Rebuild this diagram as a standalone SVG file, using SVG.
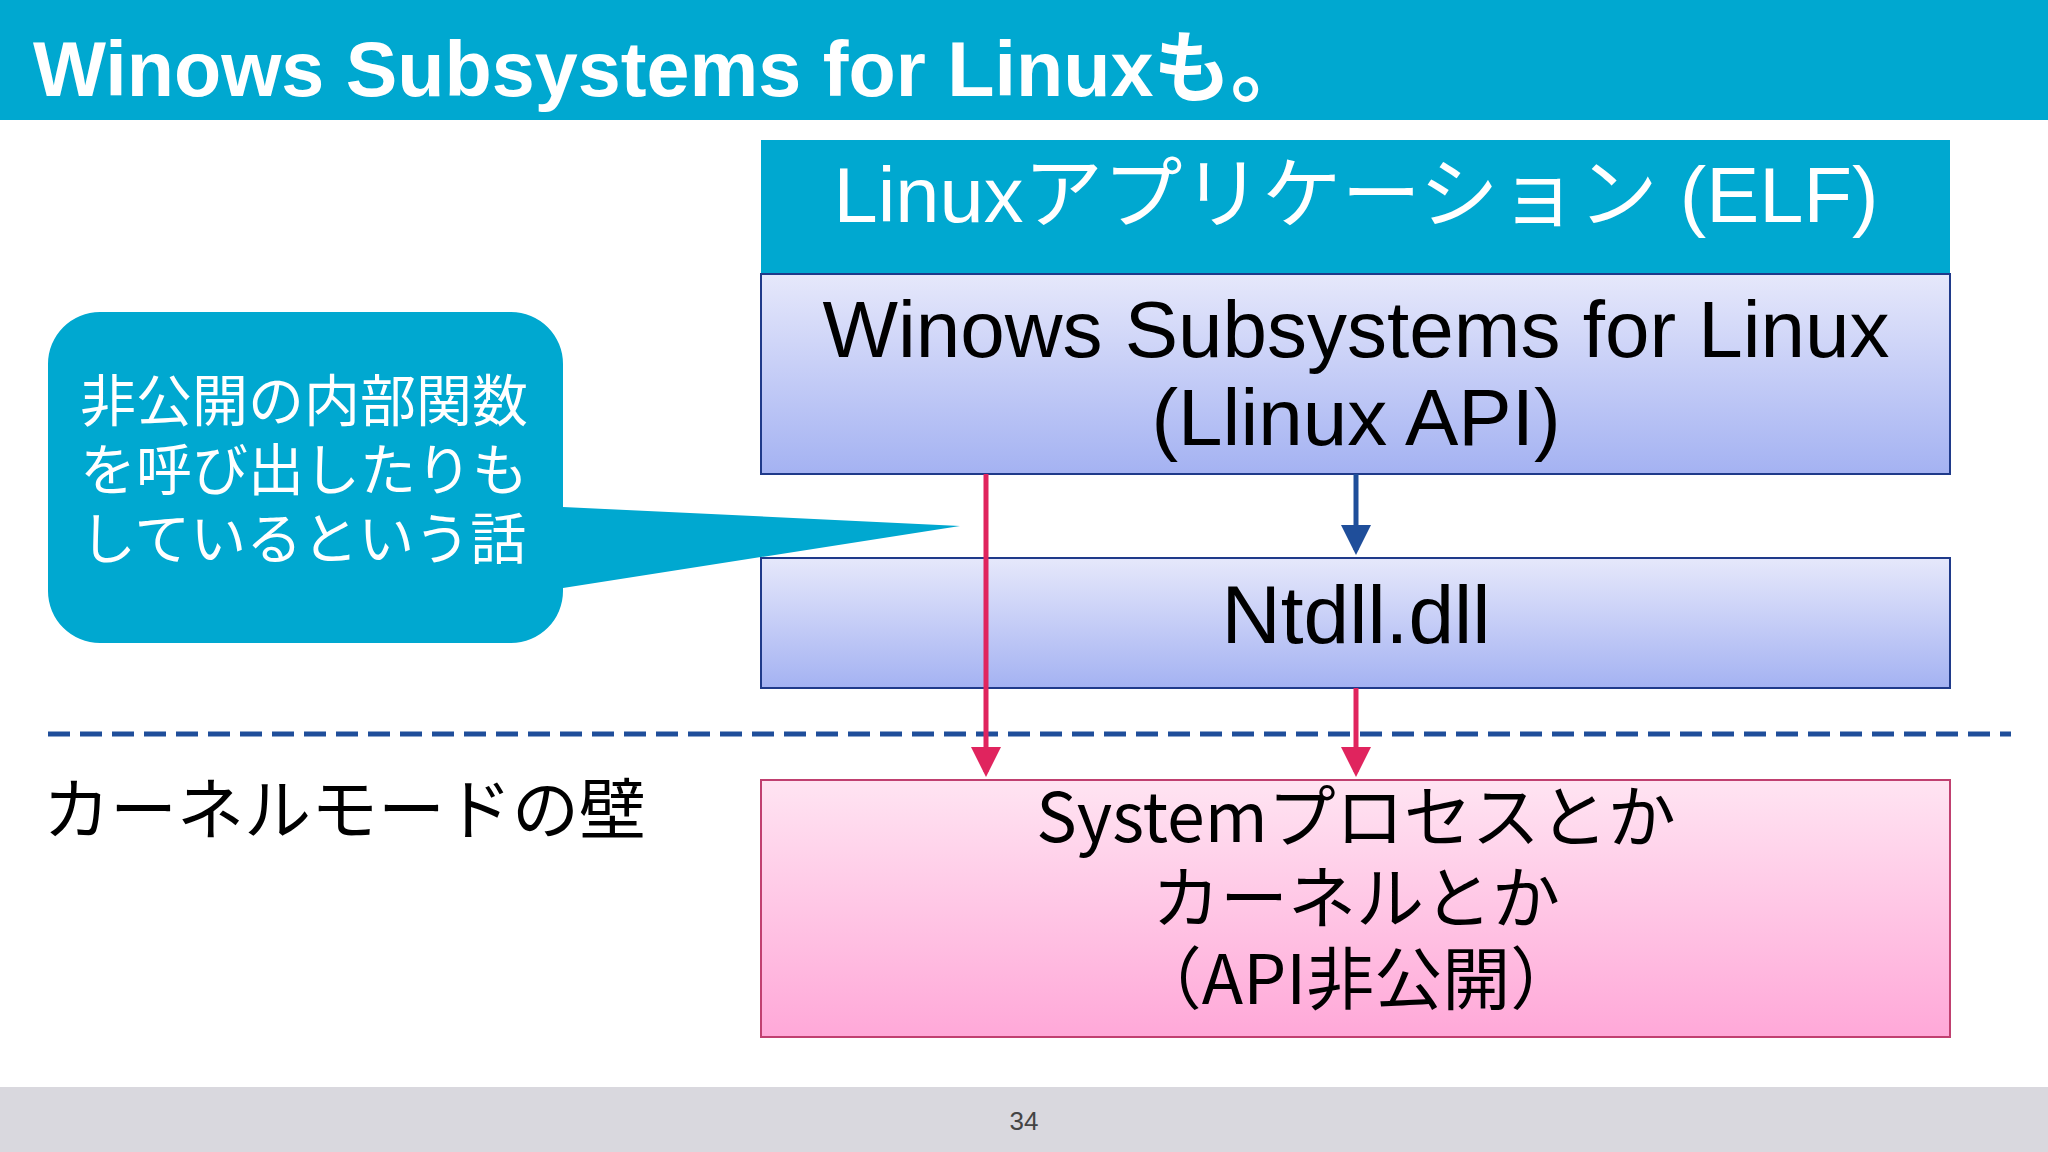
<svg xmlns="http://www.w3.org/2000/svg" width="2048" height="1152" viewBox="0 0 2048 1152">
<defs>
<linearGradient id="gb" x1="0" y1="0" x2="0" y2="1"><stop offset="0" stop-color="#e6e8fb"/><stop offset="1" stop-color="#a4b2f2"/></linearGradient>
<linearGradient id="gp" x1="0" y1="0" x2="0" y2="1"><stop offset="0" stop-color="#ffe4f2"/><stop offset="1" stop-color="#ffa8d8"/></linearGradient>
<marker id="ap" markerWidth="6" markerHeight="6" refX="5" refY="3" orient="auto" markerUnits="strokeWidth"><path d="M0,0 L6,3 L0,6 z" fill="#e0245e"/></marker>
<marker id="ab" markerWidth="6" markerHeight="6" refX="5" refY="3" orient="auto" markerUnits="strokeWidth"><path d="M0,0 L6,3 L0,6 z" fill="#1f4e9a"/></marker>
<style>
.t{font-family:"Liberation Sans","Noto Sans CJK JP",sans-serif}
.j{font-family:"Noto Sans CJK JP","Liberation Sans",sans-serif}
</style>
</defs>
<rect width="2048" height="1152" fill="#fff"/>
<rect width="2048" height="120" fill="#00a8d0"/>
<text x="33" y="96" class="t" font-weight="bold" font-size="78" fill="#fff" textLength="1275" lengthAdjust="spacingAndGlyphs">Winows Subsystems for Linuxも。</text>
<g id="elf"><rect x="761" y="140" width="1189" height="134" fill="#00a8d0"/>
<text x="1356" y="222" class="t" font-size="78" fill="#fff" text-anchor="middle" textLength="1045" lengthAdjust="spacingAndGlyphs">Linuxアプリケーション (ELF)</text></g>
<g id="wsl"><rect x="761" y="274" width="1189" height="200" fill="url(#gb)" stroke="#1f3a8a" stroke-width="2"/>
<text x="1356" y="357" class="t" font-size="80" text-anchor="middle">Winows Subsystems for Linux</text>
<text x="1356" y="445" class="t" font-size="80" text-anchor="middle">(Llinux API)</text></g>
<g id="ntdll"><rect x="761" y="558" width="1189" height="130" fill="url(#gb)" stroke="#1f3a8a" stroke-width="2"/>
<text x="1356" y="643" class="t" font-size="82" text-anchor="middle">Ntdll.dll</text></g>
<g id="kernel"><rect x="761" y="780" width="1189" height="257" fill="url(#gp)" stroke="#c04070" stroke-width="2"/>
<text x="1356" y="842" class="j" font-size="68" text-anchor="middle">Systemプロセスとか</text>
<text x="1356" y="923" class="j" font-size="68" text-anchor="middle">カーネルとか</text>
<text x="1356" y="1004" class="j" font-size="68" text-anchor="middle">（API非公開）</text></g>
<line x1="48" y1="734" x2="2011" y2="734" stroke="#1f4e9a" stroke-width="5" stroke-dasharray="22 10"/>
<text x="43" y="834" class="j" font-size="67">カーネルモードの壁</text>
<g id="callout"><path d="M100,312 H511 A52,52 0 0 1 563,364 V507 L960,526 L563,588 V591 A52,52 0 0 1 511,643 H100 A52,52 0 0 1 48,591 V364 A52,52 0 0 1 100,312 Z" fill="#00a8d0"/>
<text x="80" y="421" class="j" font-size="56" fill="#fff">非公開の内部関数</text>
<text x="80" y="490" class="j" font-size="56" fill="#fff">を呼び出したりも</text>
<text x="80" y="559" class="j" font-size="56" fill="#fff">しているという話</text></g>
<g id="connectors">
<line x1="986" y1="474" x2="986" y2="772" stroke="#e0245e" stroke-width="5" marker-end="url(#ap)"/>
<line x1="1356" y1="688" x2="1356" y2="772" stroke="#e0245e" stroke-width="5" marker-end="url(#ap)"/>
<line x1="1356" y1="474" x2="1356" y2="550" stroke="#1f4e9a" stroke-width="5" marker-end="url(#ab)"/>
</g>
<rect y="1087" width="2048" height="65" fill="#d9d8de"/>
<text x="1024" y="1130" class="t" font-size="26" fill="#444" text-anchor="middle">34</text>
</svg>
